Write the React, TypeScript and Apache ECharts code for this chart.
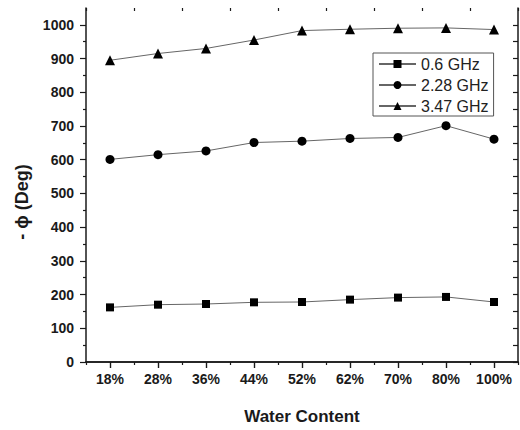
import React, { useEffect, useRef } from "react";
import * as echarts from "echarts";

const categories = ["18%", "28%", "36%", "44%", "52%", "62%", "70%", "80%", "100%"];
const s06 = [162, 170, 172, 177, 178, 185, 191, 193, 178];
const s228 = [601, 615, 626, 651, 655, 663, 666, 701, 661];
const s347 = [895, 915, 930, 955, 983, 987, 990, 991, 986];
const yMajorTicks = [0, 100, 200, 300, 400, 500, 600, 700, 800, 900, 1000];
const yMinorTicks = [50, 150, 250, 350, 450, 550, 650, 750, 850, 950];
const yAllTicks = [0, 50, 100, 150, 200, 250, 300, 350, 400, 450, 500, 550, 600, 650, 700, 750, 800, 850, 900, 950, 1000];

const FONT = "'Liberation Sans', Arial, sans-serif";
const AX = "#1a1a1a";

export default function App() {
  const ref = useRef<HTMLDivElement>(null);
  useEffect(() => {
    if (!ref.current) return;
    const chart = echarts.init(ref.current, null, { renderer: "svg" });
    const hiddenLabel = { show: false };
    const option: any = {
      animation: false,
      backgroundColor: "#ffffff",
      textStyle: { fontFamily: FONT },
      grid: { left: 86, right: 2, top: 8, bottom: 60, containLabel: false },
      graphic: [
        {
          type: "text",
          x: 22,
          y: 202,
          rotation: Math.PI / 2,
          z: 10,
          style: {
            text: "- \u03d5 (Deg)",
            fontSize: 18,
            fontWeight: "bold",
            fontFamily: FONT,
            fill: AX,
            align: "center",
            verticalAlign: "middle",
          },
        },
      ],
      legend: {
        orient: "vertical",
        left: 373,
        top: 53,
        padding: [3, 5, 2, 5],
        itemWidth: 37,
        itemHeight: 10,
        itemGap: 5,
        borderColor: "#555",
        borderWidth: 1,
        backgroundColor: "#fff",
        textStyle: { fontSize: 16, color: "#222", fontFamily: FONT },
        data: ["0.6 GHz", "2.28 GHz", "3.47 GHz"],
      },
      xAxis: [
        {
          type: "category",
          data: categories,
          position: "bottom",
          boundaryGap: true,
          name: "Water Content",
          nameLocation: "middle",
          nameGap: 46,
          nameTextStyle: { fontSize: 17, fontWeight: "bold", color: AX, fontFamily: FONT },
          axisLine: { show: true, lineStyle: { color: AX, width: 1.5 } },
          axisTick: { show: true, alignWithLabel: true, length: 6, inside: false, lineStyle: { color: AX, width: 1.2 } },
          axisLabel: { show: true, margin: 10, fontSize: 14, fontWeight: "bold", color: AX, fontFamily: FONT },
          splitLine: { show: false },
        },
        {
          type: "category",
          data: categories,
          position: "bottom",
          boundaryGap: true,
          axisLine: { show: false },
          axisTick: { show: true, alignWithLabel: false, length: 3, inside: false, lineStyle: { color: AX, width: 1.2 } },
          axisLabel: hiddenLabel,
          splitLine: { show: false },
        },
        {
          type: "category",
          data: categories,
          position: "top",
          boundaryGap: true,
          axisLine: { show: true, lineStyle: { color: AX, width: 1.5 } },
          axisTick: { show: true, alignWithLabel: true, length: 6, inside: true, lineStyle: { color: AX, width: 1.2 } },
          axisLabel: hiddenLabel,
          splitLine: { show: false },
        },
        {
          type: "category",
          data: categories,
          position: "top",
          boundaryGap: true,
          axisLine: { show: false },
          axisTick: { show: true, alignWithLabel: false, length: 3, inside: true, lineStyle: { color: AX, width: 1.2 } },
          axisLabel: hiddenLabel,
          splitLine: { show: false },
        },
      ],
      yAxis: [
        {
          type: "value",
          position: "left",
          min: 0,
          max: 1050,
          interval: 50,
          axisLine: { show: true, lineStyle: { color: AX, width: 1.5 } },
          axisTick: { show: true, length: 6, inside: false, customValues: yMajorTicks, lineStyle: { color: AX, width: 1.2 } },
          axisLabel: {
            show: true,
            margin: 12,
            fontSize: 14,
            fontWeight: "bold",
            color: AX,
            fontFamily: FONT,
            customValues: yMajorTicks,
            formatter: (v: number) => String(v),
          },
          splitLine: { show: false },
        },
        {
          type: "value",
          position: "left",
          min: 0,
          max: 1050,
          interval: 50,
          axisLine: { show: false },
          axisTick: { show: true, length: 3, inside: false, customValues: yMinorTicks, lineStyle: { color: AX, width: 1.2 } },
          axisLabel: hiddenLabel,
          splitLine: { show: false },
        },
        {
          type: "value",
          position: "right",
          min: 0,
          max: 1050,
          interval: 50,
          axisLine: { show: true, lineStyle: { color: AX, width: 1.5 } },
          axisTick: { show: true, length: 5, inside: true, customValues: yAllTicks, lineStyle: { color: AX, width: 1.2 } },
          axisLabel: hiddenLabel,
          splitLine: { show: false },
        },
      ],
      series: [
        {
          name: "0.6 GHz",
          type: "line",
          data: s06,
          symbol: "rect",
          symbolSize: 8,
          itemStyle: { color: "#000" },
          lineStyle: { color: "#666", width: 1 },
        },
        {
          name: "2.28 GHz",
          type: "line",
          data: s228,
          symbol: "circle",
          symbolSize: 9,
          itemStyle: { color: "#000" },
          lineStyle: { color: "#666", width: 1 },
        },
        {
          name: "3.47 GHz",
          type: "line",
          data: s347,
          symbol: "triangle",
          symbolSize: 10,
          itemStyle: { color: "#000" },
          lineStyle: { color: "#666", width: 1 },
        },
      ],
    };
    chart.setOption(option);
    return () => chart.dispose();
  }, []);
  return (
    <div
      ref={ref}
      style={{ position: "fixed", left: 0, top: 0, width: 520, height: 430, background: "#fff" }}
    />
  );
}
